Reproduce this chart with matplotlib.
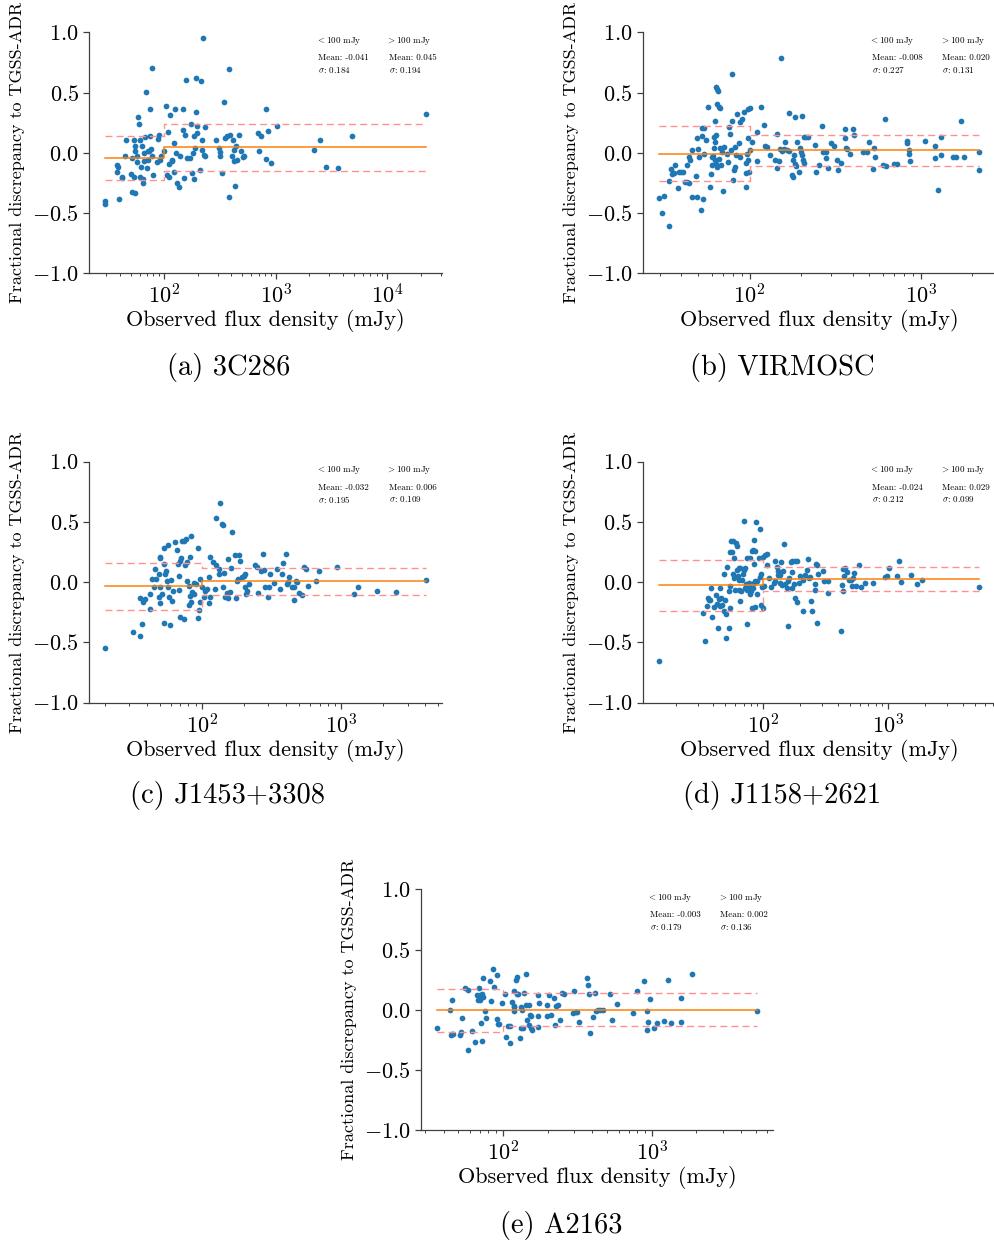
import matplotlib
matplotlib.use("Agg")
from matplotlib import pyplot as plt
from matplotlib import ticker

plt.rcParams["font.family"] = "serif"
plt.rcParams["font.serif"] = ["cmr10"]
plt.rcParams["mathtext.fontset"] = "cm"
plt.rcParams["axes.formatter.use_mathtext"] = True

# ---- data: flux (mJy) and fractional discrepancy ----
flux_a = [29.6, 29.6, 39, 37.6, 38, 38.5, 41.5, 42, 44, 45,
          50.6, 53, 51, 55, 51, 54, 55, 55, 57, 57.5,
          57.6, 59, 60, 61, 62, 63, 64, 65, 66, 66,
          67, 69, 70, 71, 72, 72.5, 75, 75, 76, 77.5,
          78, 80, 86.5, 88, 89, 91, 94, 100, 103, 105.6,
          109, 109.5, 111, 113, 116, 118, 121, 122, 124, 128,
          130, 136, 139, 147, 147, 149, 152, 156, 160, 170,
          173, 176, 180, 185, 186, 190, 193, 194, 195, 198,
          207, 212, 217, 217, 221, 225, 230, 233, 289, 307,
          313, 318, 330, 341, 348, 364, 377, 379, 390, 404,
          412, 420, 422, 433, 440, 448, 463, 487, 507, 515,
          690, 700, 735, 812, 812, 847, 900, 1030, 2180, 2500,
          2840, 3580, 4850, 22000]
frac_a = [-0.40, -0.425, -0.383, -0.161, -0.105, -0.114, -0.206, -0.203, -0.025, 0.106,
          -0.172, -0.197, -0.328, -0.33, -0.044, 0.103, 0.053, 0.017, -0.025, -0.078,
          0.294, 0.242, 0.108, -0.197, -0.117, 0.053, -0.247, -0.217, 0.0, -0.072,
          0.131, 0.503, -0.128, 0.017, -0.058, 0.011, 0.364, 0.136, 0.031, 0.706,
          -0.03, -0.186, -0.08, 0.117, 0.15, -0.058, -0.025, 0.011, 0.392, -0.183,
          0.172, -0.197, -0.094, 0.317, -0.072, -0.058, 0.081, -0.156, 0.364, -0.003,
          -0.247, -0.281, -0.025, 0.364, 0.186, -0.206, 0.15, 0.606, -0.044, -0.044,
          0.239, -0.167, -0.003, -0.219, 0.136, 0.039, 0.619, 0.336, 0.164, 0.219,
          -0.142, 0.594, 0.108, 0.025, 0.95, -0.017, 0.214, -0.03, 0.108, 0.039,
          0.003, -0.03, -0.169, 0.419, 0.122, 0.136, 0.692, -0.364, 0.15, -0.03,
          0.108, 0.025, -0.072, -0.275, 0.053, -0.058, 0.144, 0.019, -0.039, -0.03,
          0.164, 0.019, 0.136, 0.364, -0.05, 0.183, -0.086, 0.219, 0.025, 0.106,
          -0.119, -0.128, 0.136, 0.325]

flux_b = [29.5, 30.9, 31.8, 33.7, 33.7, 34.6, 35.3, 36.1, 36.9, 38.1,
          38.7, 39.8, 40.7, 42.2, 43.2, 44.5, 43.2, 44.1, 46.1, 45.1,
          46.1, 49.3, 49.0, 49.3, 49.7, 50.5, 51.9, 52.8, 54.2, 53.0,
          53.4, 54.0, 55.4, 57.0, 59.0, 59.6, 60.3, 60.5, 61.7, 63.1,
          63.7, 64.7, 65.5, 64.5, 65.0, 66.0, 67.5, 62.0, 63.7, 63.0,
          60.8, 63.1, 63.7, 66.0, 68.5, 69.8, 67.5, 69.0, 70.6, 73.8,
          74.4, 75.7, 77.0, 78.0, 79.0, 79.4, 79.6, 80.7, 82.5, 82.5,
          83.8, 84.4, 86.5, 87.4, 88.2, 90.5, 93.0, 95.0, 95.6, 96.5,
          95.6, 97.4, 100.0, 97.4, 97.7, 98.7, 100.9, 103, 110, 110,
          116, 122, 123, 126, 131, 141, 144, 148, 145, 151,
          155, 158, 161, 153, 165, 169, 171, 176, 180, 180,
          182, 184, 187, 185, 190, 195, 197, 200, 203, 205,
          208, 202, 207, 214, 220, 240, 243, 255, 266, 267,
          278, 278, 288, 297, 312, 323, 330, 343, 361, 366,
          373, 361, 404, 407, 386, 458, 482, 499, 523, 534,
          540, 598, 625, 616, 696, 722, 826, 835, 850, 850,
          870, 1055, 1212, 1212, 1253, 1303, 1320, 1542, 1596, 1706,
          1792, 2188, 2188]
frac_b = [-0.379, -0.503, -0.357, -0.609, -0.235, -0.136, -0.172, -0.17, -0.102, -0.288,
          -0.163, -0.160, -0.158, -0.246, -0.246, -0.249, -0.100, -0.033, 0.022, -0.061,
          -0.365, -0.368, -0.194, 0.119, 0.028, -0.033, -0.476, 0.207, 0.202, 0.141,
          -0.385, -0.006, 0.105, 0.379, -0.282, -0.174, -0.102, -0.033, 0.036, 0.266,
          0.542, 0.526, 0.512, -0.116, 0.409, 0.382, 0.371, 0.133, 0.147, 0.091,
          -0.03, -0.061, -0.089, -0.055, -0.100, -0.321, 0.036, 0.008, 0.050, -0.006,
          -0.075, 0.210, 0.160, 0.022, 0.263, 0.656, -0.227, -0.144, -0.116, 0.050,
          -0.019, 0.321, 0.083, 0.252, -0.039, 0.277, 0.340, -0.083, -0.166, -0.006,
          -0.282, 0.360, 0.368, 0.119, -0.061, -0.163, 0.022, 0.091, 0.174, -0.066,
          0.382, 0.230, 0.055, 0.050, -0.019, -0.061, -0.130, -0.066, 0.152, 0.030,
          0.017, 0.028, 0.089, 0.788, 0.022, 0.017, 0.329, -0.188, -0.199, -0.061,
          -0.019, -0.089, -0.108, 0.299, 0.091, -0.158, 0.041, 0.008, -0.019, -0.061,
          -0.083, 0.304, 0.133, 0.127, 0.127, 0.064, -0.160, -0.100, 0.221, 0.008,
          0.008, -0.047, -0.122, 0.083, 0.055, -0.061, -0.144, -0.083, 0.119, 0.036,
          0.028, 0.199, 0.194, 0.149, -0.014, 0.008, 0.008, 0.091, -0.138, 0.041,
          -0.033, -0.100, -0.108, 0.279, -0.094, -0.089, 0.100, 0.083, 0.022, -0.014,
          -0.066, 0.094, 0.058, -0.041, -0.310, -0.019, 0.133, -0.033, -0.039, 0.263,
          -0.033, 0.006, -0.144]

flux_c = [20.2, 32, 36, 36.8, 35.6, 37.9, 39.2, 42, 42.6, 43.8,
          45, 46.2, 46.7, 48.9, 50.2, 49.6, 48.9, 51.6, 49.6, 50.2,
          53, 53.5, 53.1, 54.6, 55.4, 56.1, 56.6, 56.6, 57.7, 59.3,
          59.9, 60.9, 61.9, 64.4, 66.2, 66.8, 68, 68, 69, 69.9,
          70.6, 71.8, 73.8, 77, 74.7, 75.9, 78, 78, 80.2, 81.5,
          83.5, 80.2, 83.5, 82.4, 84.8, 87.1, 88, 90.7, 93, 93,
          94.7, 96, 97.3, 100, 102.8, 105.7, 108.6, 111.6, 113.5, 111.6,
          113.5, 121, 126, 124.7, 126.6, 131.7, 131.7, 134.2, 139, 141,
          141, 144.6, 147, 151, 153, 153, 158, 161, 164, 173,
          185, 175, 178, 183, 188, 194, 199, 205, 205, 210,
          207, 216, 241, 248, 254, 265, 274, 277, 285, 301,
          296, 309, 332, 345, 361, 373, 385, 401, 407, 416,
          425, 441, 455, 460, 474, 484, 502, 521, 542, 560,
          574, 663, 690, 931, 1240, 1331, 1803, 2467, 4052]
frac_c = [-0.546, -0.41, -0.449, -0.346, -0.127, -0.166, -0.139, -0.224, -0.097, 0.028,
          -0.042, 0.111, 0.028, 0.069, -0.172, -0.042, -0.119, -0.097, 0.202, 0.213,
          0.283, 0.152, -0.341, 0.064, 0.097, 0.008, 0.31, -0.042, -0.125, -0.352,
          0.019, -0.152, -0.075, 0.332, 0.269, 0.152, 0.055, -0.064, -0.291, 0.18,
          0.202, 0.341, 0.346, 0.36, -0.305, 0.139, 0.166, 0.014, -0.028, 0.208,
          0.382, -0.186, -0.166, -0.116, -0.078, -0.097, -0.003, -0.014, 0.285, -0.299,
          -0.23, -0.166, 0.028, -0.042, -0.125, -0.069, -0.055, -0.175, -0.125, 0.042,
          0.208, 0.166, 0.139, -0.055, 0.532, 0.111, 0.069, 0.659, 0.485, 0.471,
          -0.042, 0.075, -0.125, -0.091, -0.133, 0.194, -0.083, 0.116, 0.413, 0.222,
          0.222, -0.133, 0.008, 0.028, 0.175, 0.047, 0.055, 0.064, -0.042, -0.069,
          -0.097, -0.014, 0.139, 0.13, -0.091, 0.097, 0.235, 0.102, -0.036, -0.036,
          -0.125, 0.064, -0.008, 0.108, -0.058, 0.064, 0.161, 0.23, -0.014, 0.0,
          0.042, -0.036, -0.042, -0.147, 0.014, 0.0, -0.091, -0.105, 0.13, 0.111,
          -0.028, 0.008, 0.097, 0.13, -0.097, -0.036, -0.069, -0.08, 0.022]

flux_d = [14.6, 33.2, 34.6, 35.3, 36, 36.7, 37.9, 38.4, 39.1, 40.8,
          42.3, 42.9, 44.2, 45.6, 46.2, 43.4, 45, 47, 48.5, 49,
          50, 50.3, 50.8, 51.5, 53.1, 53.4, 54, 54.8, 55.5, 57.5,
          54, 56.5, 57.3, 59, 60, 58.3, 60.8, 61.9, 62, 63.9,
          65.9, 63, 64.6, 64.6, 66.6, 65.9, 67.9, 69, 70, 71,
          72, 72.2, 73.5, 75, 76.8, 78, 74.5, 75, 79, 79.2,
          80.7, 83, 84.2, 81, 84, 87, 81.7, 85.5, 84.2, 87,
          89.5, 87, 88, 89.5, 92.3, 95.2, 95.2, 97, 96.5, 98.2,
          100, 101, 102.5, 104, 108, 108, 111, 116, 122, 125,
          124, 129, 133, 131, 136, 138, 142, 139, 146, 148,
          151, 156, 158, 160, 163, 170, 176, 167, 172, 180,
          187, 170, 181, 187, 196, 199, 209, 211, 218, 225,
          229, 232, 239, 242, 246, 262, 266, 273, 263, 270,
          275, 301, 306, 335, 335, 421, 428, 436, 442, 448,
          459, 470, 487, 505, 517, 535, 555, 531, 592, 610,
          663, 766, 960, 980, 1030, 1190, 1238, 1290, 1528, 1706,
          1871, 5410]
frac_d = [-0.655, -0.254, -0.489, -0.199, -0.13, -0.144, -0.149, -0.047, -0.287, -0.207,
          -0.11, -0.185, -0.138, -0.199, -0.13, -0.384, -0.047, -0.191, -0.235, 0.069,
          -0.144, -0.467, -0.262, 0.124, -0.378, -0.075, -0.033, -0.213, 0.345, 0.34,
          0.249, 0.251, 0.064, 0.036, -0.061, 0.202, 0.326, 0.298, 0.105, 0.119,
          0.119, 0.05, 0.022, -0.061, -0.075, -0.157, 0.022, 0.064, 0.511, 0.105,
          0.119, -0.047, -0.019, -0.061, -0.033, -0.006, -0.351, 0.202, 0.202, -0.102,
          -0.075, -0.047, -0.006, 0.262, 0.271, 0.257, -0.213, 0.354, 0.152, 0.014,
          0.008, -0.207, 0.497, -0.102, 0.202, 0.445, 0.041, 0.069, -0.191, -0.041,
          0.207, -0.218, -0.033, 0.229, 0.235, 0.146, 0.036, -0.041, -0.006, 0.008,
          0.18, 0.124, 0.058, 0.091, 0.058, -0.006, -0.025, 0.166, 0.097, 0.318,
          -0.019, -0.047, -0.365, 0.014, 0.036, 0.083, -0.014, 0.166, 0.174, 0.174,
          0.174, -0.047, -0.13, -0.163, -0.006, 0.05, -0.24, 0.022, 0.058, 0.105,
          0.196, 0.036, 0.041, -0.157, -0.235, -0.019, 0.152, 0.146, -0.061, -0.337,
          0.064, 0.097, 0.008, 0.008, -0.088, -0.406, -0.025, -0.075, 0.11, 0.05,
          0.119, 0.086, 0.019, 0.022, -0.028, 0.077, -0.028, 0.036, 0.146, -0.041,
          -0.006, -0.006, 0.041, 0.05, 0.119, 0.05, 0.174, 0.003, 0.058, -0.019,
          0.017, -0.041]

flux_e = [35.9, 44.1, 44.5, 45.2, 45.2, 46.5, 51.3, 52.3, 52.7, 55.8,
          58, 58.2, 61.6, 64.6, 66.5, 67.6, 69.3, 70, 70.3, 72,
          73, 71.5, 72.6, 74, 75.6, 77.3, 81.9, 83, 86, 87,
          90.7, 91.6, 92, 93.5, 98.5, 103.6, 104.7, 109, 111, 111,
          115, 118, 119, 119.5, 119, 122, 123.5, 123.5, 126, 130,
          132, 136, 133, 134, 138, 143, 144, 146, 149, 150,
          152, 155, 155, 158, 171, 171, 173, 175, 197, 199,
          205, 212, 220, 223, 226, 236, 241, 249, 256, 297,
          310, 316, 301, 325, 366, 371, 380, 384, 403, 413,
          421, 433, 448, 470, 524, 540, 585, 746, 796, 893,
          927, 935, 945, 973, 1032, 1087, 1216, 1297, 1342, 1571,
          1582, 1875, 5117]
frac_e = [-0.155, 0.0, -0.213, -0.202, 0.08, -0.199, -0.213, -0.185, -0.064, 0.185,
          0.166, -0.334, -0.18, -0.271, 0.119, 0.083, 0.18, 0.083, 0.119, 0.13,
          0.11, -0.108, -0.262, 0.268, -0.014, -0.064, 0.235, 0.069, 0.337, 0.193,
          -0.075, 0.285, -0.116, -0.116, 0.055, 0.13, -0.229, -0.138, -0.138, -0.273,
          0.066, 0.028, -0.014, 0.022, 0.157, 0.246, 0.273, 0.133, 0.135, -0.238,
          -0.152, -0.149, 0.022, 0.0, 0.141, 0.301, 0.036, -0.083, -0.124, 0.036,
          -0.041, -0.055, -0.152, -0.169, -0.144, -0.055, 0.119, 0.055, -0.055, 0.041,
          0.124, -0.041, 0.102, -0.13, 0.028, 0.041, -0.088, 0.138, 0.13, -0.025,
          -0.022, -0.022, 0.152, -0.105, 0.268, 0.207, 0.133, -0.196, -0.058, 0.138,
          -0.008, 0.0, 0.0, 0.0, 0.135, -0.083, 0.05, -0.025, 0.155, 0.24,
          -0.171, -0.014, -0.102, 0.088, -0.155, -0.113, -0.094, 0.246, -0.11, -0.102,
          0.102, 0.296, -0.008]

# statistics below / above 100 mJy
means_lo = [-0.041, -0.008, -0.032, -0.024, -0.003]
means_hi = [0.045, 0.020, 0.006, 0.029, 0.002]
sig_lo = [0.184, 0.227, 0.195, 0.212, 0.179]
sig_hi = [0.194, 0.131, 0.109, 0.099, 0.136]
captions = ["(a) 3C286", "(b) VIRMOSC", "(c) J1453+3308", "(d) J1158+2621", "(e) A2163"]

fluxes = [flux_a, flux_b, flux_c, flux_d, flux_e]
fracs = [frac_a, frac_b, frac_c, frac_d, frac_e]

W, H = 994.0, 1243.0
# axes left/top in pixels, caption centre in pixels
ax_pos = [(89.3, 32.3), (642.7, 32.3), (89.3, 461.7), (642.7, 461.7), (420.7, 889.3)]
cap_pos = [(228.5, 368), (782.5, 368), (228, 796), (782, 796), (561.5, 1225)]
AW, AH = 352.4, 241.0

fig = plt.figure(figsize=(W / 100, H / 100), dpi=100)

for i in range(5):
    left, top = ax_pos[i]
    ax = fig.add_axes([left / W, 1 - (top + AH) / H, AW / W, AH / H])
    flux, frac = fluxes[i], fracs[i]

    ax.scatter(flux, frac, s=17, color="tab:blue", linewidths=0)

    xs = [min(flux), 100, 100, max(flux)]
    m = [means_lo[i], means_lo[i], means_hi[i], means_hi[i]]
    s = [sig_lo[i], sig_lo[i], sig_hi[i], sig_hi[i]]
    ax.plot(xs, m, color="tab:orange", lw=1.1)
    ax.plot(xs, [a + b for a, b in zip(m, s)], color="#ff9090", lw=1.0, ls="--", dashes=(5, 3))
    ax.plot(xs, [a - b for a, b in zip(m, s)], color="#ff9090", lw=1.0, ls="--", dashes=(5, 3))

    ax.set_xscale("log")
    ax.set_ylim(-1.0, 1.0)
    ax.set_yticks([-1.0, -0.5, 0.0, 0.5, 1.0])
    ax.yaxis.set_major_formatter(ticker.FormatStrFormatter(r"$%.1f$"))
    ax.xaxis.set_minor_formatter(ticker.NullFormatter())
    ax.spines["top"].set_visible(False)
    ax.spines["right"].set_visible(False)
    for sp in ("left", "bottom"):
        ax.spines[sp].set_color("#404040")
        ax.spines[sp].set_linewidth(0.9)
    ax.tick_params(which="major", length=4, width=0.9, color="#404040", labelsize=16)
    ax.tick_params(which="minor", length=2, width=0.7, color="#404040")

    ax.set_xlabel("Observed flux density (mJy)", fontsize=16, labelpad=1)
    ax.set_ylabel("Fractional discrepancy to TGSS-ADR", fontsize=13, labelpad=5)

    ax.text(0.643, 0.964, r"$<$100 mJy", transform=ax.transAxes, fontsize=6.5, va="center")
    ax.text(0.843, 0.964, r"$>$100 mJy", transform=ax.transAxes, fontsize=6.5, va="center")
    ax.text(0.65, 0.893, "Mean: %.3f" % means_lo[i], transform=ax.transAxes, fontsize=6.5, va="center")
    ax.text(0.85, 0.893, "Mean: %.3f" % means_hi[i], transform=ax.transAxes, fontsize=6.5, va="center")
    ax.text(0.65, 0.844, r"$\sigma$: %.3f" % sig_lo[i], transform=ax.transAxes, fontsize=6.5, va="center")
    ax.text(0.85, 0.844, r"$\sigma$: %.3f" % sig_hi[i], transform=ax.transAxes, fontsize=6.5, va="center")

    cx, cy = cap_pos[i]
    fig.text(cx / W, 1 - cy / H, captions[i], fontsize=20.5, ha="center", va="center")

fig.savefig("out.png", dpi=100)
